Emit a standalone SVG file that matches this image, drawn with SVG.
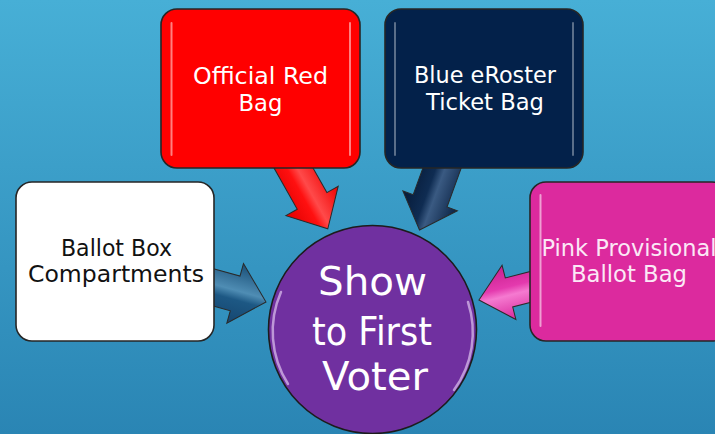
<svg xmlns="http://www.w3.org/2000/svg" width="715" height="434" viewBox="0 0 715 434">
  <defs>
    <linearGradient id="bg" x1="0" y1="0" x2="0" y2="1">
      <stop offset="0" stop-color="#47afd6"/>
      <stop offset="1" stop-color="#2a85b4"/>
    </linearGradient>
    <linearGradient id="gRed" x1="0" y1="0" x2="0" y2="1">
      <stop offset="0" stop-color="#ee0000"/>
      <stop offset="0.45" stop-color="#ff4a4a"/>
      <stop offset="0.6" stop-color="#ff1010"/>
      <stop offset="1" stop-color="#e00000"/>
    </linearGradient>
    <linearGradient id="gNavy" x1="0" y1="0" x2="0" y2="1">
      <stop offset="0" stop-color="#0a2244"/>
      <stop offset="0.45" stop-color="#3a5a82"/>
      <stop offset="0.6" stop-color="#0f2c52"/>
      <stop offset="1" stop-color="#061a38"/>
    </linearGradient>
    <linearGradient id="gBlue" x1="0" y1="0" x2="0" y2="1">
      <stop offset="0" stop-color="#184e76"/>
      <stop offset="0.45" stop-color="#4f8db4"/>
      <stop offset="0.6" stop-color="#1d5884"/>
      <stop offset="1" stop-color="#154670"/>
    </linearGradient>
    <linearGradient id="gPink" x1="0" y1="0" x2="0" y2="1">
      <stop offset="0" stop-color="#d8289c"/>
      <stop offset="0.45" stop-color="#f57ad0"/>
      <stop offset="0.6" stop-color="#e43aae"/>
      <stop offset="1" stop-color="#c8208e"/>
    </linearGradient>
    <style>
      .box { stroke: #262626; stroke-width: 1.6; }
      .hl { stroke: #ffffff; stroke-width: 2; stroke-linecap: round; fill: none; opacity: 0.5; }
      .arrow { stroke: #2a2a2a; stroke-width: 1; stroke-linejoin: miter; }
      .lbl { font-family: "DejaVu Sans", "Liberation Sans", sans-serif; font-size: 23.5px; text-anchor: middle; }
      .big { font-family: "DejaVu Sans", "Liberation Sans", sans-serif; font-size: 39px; text-anchor: middle; fill: #ffffff; }
    </style>
  </defs>

  <rect x="0" y="0" width="715" height="434" fill="url(#bg)"/>

  <g id="connectors">
    <path class="arrow" fill="url(#gRed)" transform="translate(289,160) rotate(60.6)" d="M0,-17 L47,-17 L47,-30 L79,0 L47,30 L47,17 L0,17 Z"/>
    <path class="arrow" fill="url(#gNavy)" transform="translate(445,160) rotate(110)" d="M0,-18 L43.5,-18 L43.5,-29 L74.5,0 L43.5,29 L43.5,18 L0,18 Z"/>
    <path class="arrow" fill="url(#gBlue)" transform="translate(205,285) rotate(15.6)" d="M0,-18 L31.3,-18 L31.3,-31 L63.3,0 L31.3,31 L31.3,18 L0,18 Z"/>
    <path class="arrow" fill="url(#gPink)" transform="translate(540,284.5) rotate(165.7)" d="M0,-15 L32,-15 L32,-28 L63,0 L32,28 L32,15 L0,15 Z"/>
  </g>

  <g id="node-red">
    <rect class="box" x="161" y="9" width="199" height="159" rx="16" fill="#ff0000"/>
    <line class="hl" x1="171.5" y1="23" x2="171.5" y2="155"/>
    <line class="hl" x1="350" y1="23" x2="350" y2="155"/>
    <text class="lbl" fill="#ffffff"><tspan x="260.5" y="84" textLength="135" lengthAdjust="spacingAndGlyphs">Official Red</tspan><tspan x="260.5" y="111" textLength="44" lengthAdjust="spacingAndGlyphs">Bag</tspan></text>
  </g>

  <g id="node-navy">
    <rect class="box" x="385" y="9" width="198" height="159" rx="16" fill="#03214a"/>
    <line class="hl" x1="395" y1="23" x2="395" y2="155" style="opacity:0.35"/>
    <line class="hl" x1="573" y1="23" x2="573" y2="155" style="opacity:0.35"/>
    <text class="lbl" fill="#ffffff"><tspan x="485" y="83" textLength="142" lengthAdjust="spacingAndGlyphs">Blue eRoster</tspan><tspan x="485" y="110" textLength="118" lengthAdjust="spacingAndGlyphs">Ticket Bag</tspan></text>
  </g>

  <g id="node-white">
    <rect class="box" x="16" y="182" width="198" height="159" rx="16" fill="#ffffff"/>
    <text class="lbl" fill="#111111"><tspan x="116.5" y="256" textLength="111" lengthAdjust="spacingAndGlyphs">Ballot Box</tspan><tspan x="116" y="282" textLength="176" lengthAdjust="spacingAndGlyphs">Compartments</tspan></text>
  </g>

  <g id="node-pink">
    <rect class="box" x="530" y="182" width="198" height="159" rx="16" fill="#dc2a9e"/>
    <line class="hl" x1="540.5" y1="195" x2="540.5" y2="326" style="opacity:0.55"/>
    <text class="lbl" fill="#fbe8f6"><tspan x="629" y="256" textLength="175" lengthAdjust="spacingAndGlyphs">Pink Provisional</tspan><tspan x="629" y="282" textLength="116" lengthAdjust="spacingAndGlyphs">Ballot Bag</tspan></text>
  </g>

  <g id="node-center">
    <circle cx="372.5" cy="329.5" r="104" fill="#7030a0" stroke="#1c1c1c" stroke-width="1.6"/>
    <path d="M281,292 A98,98 0 0,0 288,384" fill="none" stroke="#e6cff5" stroke-width="2.5" stroke-linecap="round" opacity="0.65"/>
    <path d="M468,302 A98,98 0 0,1 454,390" fill="none" stroke="#e6cff5" stroke-width="2.5" stroke-linecap="round" opacity="0.65"/>
    <text class="big"><tspan x="372.5" y="295" textLength="109" lengthAdjust="spacingAndGlyphs">Show</tspan><tspan x="372" y="345" textLength="120" lengthAdjust="spacingAndGlyphs">to First</tspan><tspan x="375" y="390" textLength="106" lengthAdjust="spacingAndGlyphs">Voter</tspan></text>
  </g>
</svg>
